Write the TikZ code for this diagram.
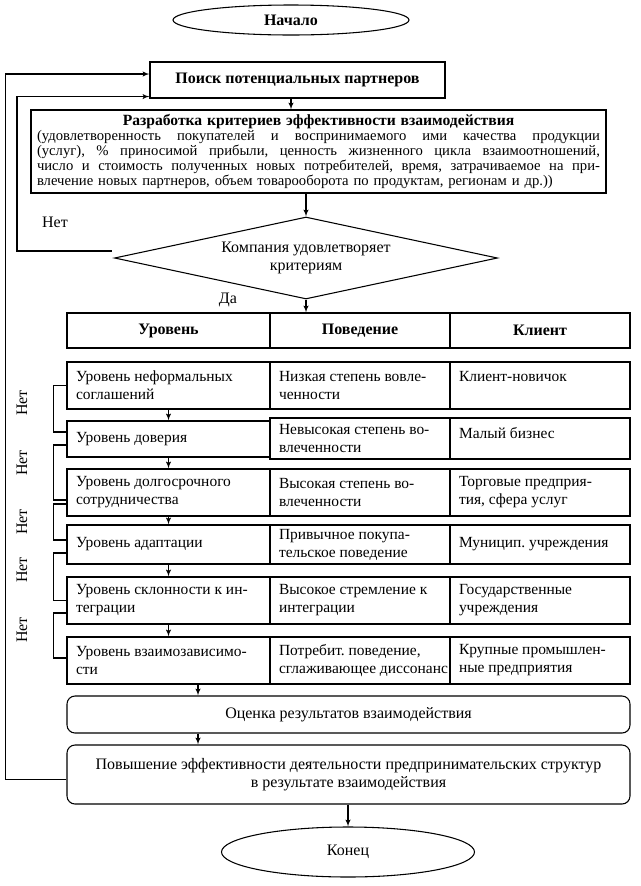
\documentclass[tikz,border=0pt]{standalone}
\usepackage{fontspec}
\setmainfont{Liberation Serif}
\frenchspacing
\usetikzlibrary{positioning}
\usetikzlibrary{arrows}
\usetikzlibrary{calc}
\usetikzlibrary{shapes.geometric}
\def\pxu{0.75pt}

\begin{document}
\begin{tikzpicture}[x=0.75pt,y=-0.75pt,>=latex',line width=0.8pt,
                    font=\fontsize{12}{13.5}\selectfont,
                    term/.style={ellipse,draw,inner sep=0pt},
                    block/.style={rectangle,draw,inner sep=0pt,align=center},
                    rblock/.style={block,rounded corners=6pt},
                    cond/.style={diamond,draw,aspect=4.6,inner sep=0pt,align=center},
                    cell/.style={rectangle,draw,inner sep=0pt},
                    lev/.style={cell,minimum width=203*\pxu},
                    beh/.style={cell,minimum width=180*\pxu},
                    celltext/.style={anchor=west,align=left,inner xsep=6.75pt,inner ysep=0pt,
                                     font=\fontsize{11.6}{13.5}\selectfont}]
\useasboundingbox (0,0) rectangle (640,886);

\node[term, minimum width=236*\pxu, minimum height=30*\pxu] (nach) at (291,20) {\bfseries Начало};
\node[block, minimum width=295*\pxu, minimum height=36*\pxu] (poisk) at (297.5,80) {\bfseries Поиск потенциальных партнеров};
\node[block, minimum width=575*\pxu, minimum height=83*\pxu, text width=422.25pt,
      font=\fontsize{11}{11.4}\selectfont] (razr) at (318.5,151.5)
  {{\fontsize{11.7}{11.4}\selectfont\bfseries Разработка критериев эффективности взаимодействия}\\
   \makebox[422.25pt][s]{\spaceskip=.25em plus 1fil (удовлетворенность покупателей и воспринимаемого ими качества продукции}\\
   \makebox[422.25pt][s]{\spaceskip=.25em plus 1fil (услуг), \% приносимой прибыли, ценность жизненного цикла взаимоотношений,}\\
   \makebox[422.25pt][s]{\spaceskip=.25em plus 1fil число и стоимость полученных новых потребителей, время, затрачиваемое на при-}\\
   \makebox[422.25pt][l]{влечение новых партнеров, объем товарооборота по продуктам, регионам и др.))}};
\node[cond, minimum width=383*\pxu, minimum height=82*\pxu] (dia) at (306,258) {Компания удовлетворяет\\критериям};
\node (net0) at (55,222) {Нет};
\node (da) at (228,300) {Да};

% table head
\node[lev, minimum height=35*\pxu] (hlev) at (168.5,330.5) {\bfseries Уровень};
\node[beh, minimum height=35*\pxu] (hbeh) at (360,330.5) {\bfseries Поведение};
\node[beh, minimum height=35*\pxu] (hcli) at (540,330.5) {\bfseries Клиент};

% levels
\node[lev, minimum height=47*\pxu, label={[celltext]west:Уровень неформальных\\соглашений}] (lev1) at (168.5,385.5) {};
\node[beh, minimum height=47*\pxu, label={[celltext]west:Низкая степень вовле-\\ченности}] (beh1) at (360,385.5) {};
\node[beh, minimum height=47*\pxu, label={[celltext,yshift=6.75pt]west:Клиент-новичок}] (cli1) at (540,385.5) {};

\node[lev, minimum height=36*\pxu, label={[celltext]west:Уровень доверия}] (lev2) at (168.5,439) {};
\node[beh, minimum height=41*\pxu, label={[celltext]west:Невысокая степень во-\\влеченности}] (beh2) at (360,438.5) {};
\node[beh, minimum height=41*\pxu, label={[celltext,yshift=4pt]west:Малый бизнес}] (cli2) at (540,438.5) {};

\node[lev, minimum height=47*\pxu, label={[celltext]west:Уровень долгосрочного\\сотрудничества}] (lev3) at (168.5,492.5) {};
\node[beh, minimum height=47*\pxu, label={[celltext]west:Высокая степень во-\\влеченности}] (beh3) at (360,492.5) {};
\node[beh, minimum height=47*\pxu, label={[celltext]west:{Торговые предприя-\\тия, сфера услуг}}] (cli3) at (540,492.5) {};

\node[lev, minimum height=39*\pxu, label={[celltext]west:Уровень адаптации}] (lev4) at (168.5,544.5) {};
\node[beh, minimum height=39*\pxu, label={[celltext]west:Привычное покупа-\\тельское поведение}] (beh4) at (360,544.5) {};
\node[beh, minimum height=39*\pxu, label={[celltext]west:Муницип. учреждения}] (cli4) at (540,544.5) {};

\node[lev, minimum height=47*\pxu, label={[celltext]west:Уровень склонности к ин-\\теграции}] (lev5) at (168.5,600.5) {};
\node[beh, minimum height=47*\pxu, label={[celltext]west:Высокое стремление к\\интеграции}] (beh5) at (360,600.5) {};
\node[beh, minimum height=47*\pxu, label={[celltext]west:Государственные\\учреждения}] (cli5) at (540,600.5) {};

\node[lev, minimum height=47*\pxu, label={[celltext]west:Уровень взаимозависимо-\\сти}] (lev6) at (168.5,660.5) {};
\node[beh, minimum height=47*\pxu, label={[celltext]west:{Потребит. поведение,\\сглаживающее диссонанс}}] (beh6) at (360,660.5) {};
\node[beh, minimum height=47*\pxu, label={[celltext]west:Крупные промышлен-\\ные предприятия}] (cli6) at (540,660.5) {};

\node[rotate=90] (net1) at (22,403) {Нет};
\node[rotate=90] (net2) at (22,463) {Нет};
\node[rotate=90] (net3) at (22,522) {Нет};
\node[rotate=90] (net4) at (22,570) {Нет};
\node[rotate=90] (net5) at (22,630) {Нет};

% end
\node[rblock, minimum width=563*\pxu, minimum height=37*\pxu] (ocen) at (348.5,714.5) {Оценка результатов взаимодействия};
\node[rblock, minimum width=563*\pxu, minimum height=59*\pxu] (pov) at (348.5,774.5)
  {Повышение эффективности деятельности предпринимательских структур\\в результате взаимодействия};
\node[term, minimum width=253*\pxu, minimum height=50*\pxu] (kon) at (348,852) {Конец};
\coordinate (ax) at (198,0);

\draw[->] (poisk.south -| nach) -- (razr.north -| nach);
\draw[->] (razr.south -| dia.north) -- (dia.north);
\draw[->] (dia.south) -- (dia.south |- hbeh.north);
\path[->]
  (lev1) edge (lev2)
  (lev2) edge (lev3)
  (lev3) edge (lev4)
  (lev4) edge (lev5)
  (lev5) edge (lev6);
\draw[->] (lev6.south -| ax) -- (ocen.north -| ax);
\draw[->] (ocen.south -| ax) -- (pov.north -| ax);
\draw[->] (pov.south -| kon.north) -- (kon.north);

% loops back
\draw[->] ($(pov.west)+(0,5)$) -- ++(-61,0) |- ($(poisk.west)+(0,-6)$);
\draw[->] ($(dia.west)+(-2,-7)$) -- ++(-95,0) |- ($(poisk.south west)+(0,-2)$);

\draw (lev1.west) -- ++(-13,0) |- ($(lev2.west)+(0,-7)$);
\draw ($(lev2.west)+(0,6)$) -- ++(-13,0) |- ($(lev3.west)+(0,7.5)$);
\draw ($(lev3.west)+(0,11.5)$) -- ++(-13,0) |- ($(lev4.west)+(0,-4.5)$);
\draw ($(lev4.west)+(0,8.5)$) -- ++(-13,0) |- (lev5.west);
\draw ($(lev5.west)+(0,12.5)$) -- ++(-13,0) |- ($(lev6.west)+(0,-2.5)$);
\end{tikzpicture}
\end{document}
